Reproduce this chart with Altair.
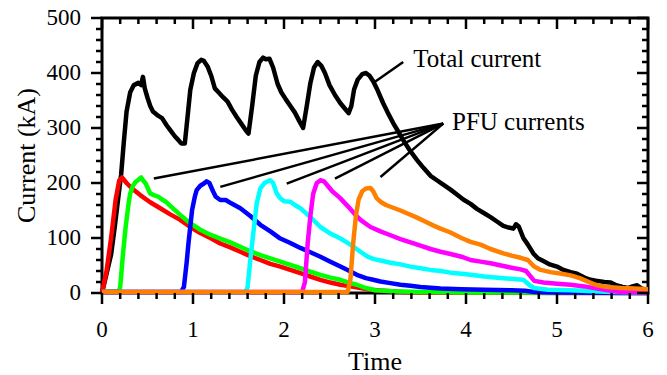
import altair as alt
import pandas as pd

FONT = "Liberation Serif"

# ---------------- data ----------------
black_t = [0.0, 0.05, 0.10, 0.14, 0.18, 0.21, 0.24, 0.27, 0.31, 0.35, 0.40, 0.43, 0.45, 0.47, 0.50, 0.53, 0.56,
           0.62, 0.66, 0.71, 0.75, 0.80, 0.84, 0.87, 0.91, 0.94, 0.97, 1.01, 1.05, 1.09, 1.12, 1.16, 1.20, 1.24,
           1.28, 1.33, 1.38, 1.43, 1.48, 1.53, 1.58, 1.61, 1.65, 1.69, 1.73, 1.77, 1.80, 1.84, 1.88, 1.93, 1.97,
           2.02, 2.07, 2.12, 2.17, 2.21, 2.25, 2.29, 2.33, 2.37, 2.41, 2.45, 2.50, 2.56, 2.62, 2.67, 2.71, 2.74,
           2.77, 2.81, 2.86, 2.90, 2.94, 2.98, 3.03, 3.09, 3.14, 3.20, 3.25, 3.31, 3.38, 3.46, 3.53, 3.61, 3.68,
           3.75, 3.83, 3.90, 3.97, 4.05, 4.12, 4.20, 4.27, 4.34, 4.41, 4.47, 4.52, 4.55, 4.58, 4.63, 4.68, 4.74,
           4.79, 4.85, 4.92, 5.00, 5.07, 5.15, 5.22, 5.30, 5.37, 5.44, 5.52, 5.59, 5.65, 5.72, 5.78, 5.83, 5.88,
           5.93, 6.0]
black_v = [0, 35, 70, 120, 175, 215, 275, 330, 365, 378, 382, 378, 393, 372, 355, 340, 330,
           322, 318, 305, 296, 285, 278, 272, 272, 320, 369, 400, 418, 424, 422, 412, 395, 372,
           365, 356, 348, 333, 320, 308, 296, 290, 340, 395, 420, 428, 425, 426, 410, 380, 365,
           352, 340, 328, 312, 300, 340, 382, 410, 420, 413, 400, 378, 360, 345, 335, 327, 340,
           370, 388, 398, 400, 395, 385, 368, 345, 328, 309, 295, 278, 260, 242, 228, 213, 205,
           197, 188, 179, 170, 162, 153, 145, 138, 130, 122, 119, 117, 125, 121, 100, 88, 72,
           63, 58, 52, 48, 42, 38, 35, 28, 24, 22, 20, 19, 14, 11, 9, 12, 14,
           8, 6]

red_t = [0.0, 0.05, 0.10, 0.15, 0.19, 0.22, 0.27, 0.33, 0.42, 0.53, 0.64, 0.75, 0.86, 0.97, 1.08, 1.19, 1.30,
         1.41, 1.52, 1.63, 1.74, 1.85, 1.96, 2.07, 2.18, 2.29, 2.40, 2.51, 2.62, 2.73, 2.84, 2.95, 3.10, 3.30,
         3.60, 4.00, 5.00, 6.00]
red_v = [0, 40, 100, 170, 205, 210, 200, 190, 178, 165, 154, 143, 133, 120, 109, 100, 90,
         83, 75, 67, 60, 53, 48, 42, 36, 30, 24, 19, 15, 12, 9, 6, 4, 2,
         1, 1, 0, 0]

green_t = [0.0, 0.10, 0.185, 0.20, 0.23, 0.26, 0.29, 0.31, 0.34, 0.37, 0.40, 0.43, 0.45, 0.48, 0.53, 0.57, 0.62,
           0.66, 0.70, 0.78, 0.86, 0.97, 1.08, 1.19, 1.30, 1.41, 1.52, 1.63, 1.74, 1.85, 1.96, 2.07, 2.18, 2.29,
           2.40, 2.51, 2.62, 2.71, 2.80, 2.90, 3.00, 3.20, 3.50, 4.00, 6.00]
green_v = [2, 3, 3, 11, 70, 120, 160, 181, 195, 202, 206, 210, 205, 199, 181, 178, 175,
           170, 166, 154, 142, 127, 115, 106, 99, 92, 84, 76, 69, 63, 57, 51, 45, 39,
           33, 28, 24, 19, 15, 9, 5, 3, 2, 1, 0]

blue_t = [0.0, 0.50, 0.87, 0.90, 0.93, 0.95, 0.99, 1.02, 1.04, 1.08, 1.12, 1.15, 1.18, 1.22, 1.25, 1.30, 1.36,
          1.42, 1.52, 1.63, 1.74, 1.85, 1.96, 2.07, 2.18, 2.29, 2.40, 2.51, 2.62, 2.71, 2.80, 2.90, 2.98, 3.06,
          3.17, 3.28, 3.39, 3.50, 3.72, 3.95, 4.20, 4.50, 4.65, 4.75, 5.00, 6.00]
blue_v = [2, 2, 2, 11, 55, 90, 151, 175, 187, 195, 199, 203, 200, 185, 175, 169, 169,
          163, 154, 140, 124, 112, 99, 91, 82, 74, 66, 57, 48, 41, 33, 27, 24, 21,
          18, 15, 13, 11, 8, 7, 6, 5, 4, 2, 1, 0]

cyan_t = [0.0, 1.00, 1.58, 1.60, 1.63, 1.65, 1.70, 1.74, 1.78, 1.82, 1.85, 1.88, 1.92, 1.96, 2.00, 2.07, 2.12,
          2.18, 2.29, 2.40, 2.51, 2.62, 2.73, 2.84, 2.92, 2.98, 3.06, 3.17, 3.28, 3.39, 3.50, 3.61, 3.72, 3.83,
          3.95, 4.05, 4.20, 4.41, 4.55, 4.63, 4.70, 4.75, 4.90, 5.15, 5.40, 5.60, 6.00]
cyan_v = [2, 2, 2, 11, 60, 90, 163, 190, 199, 203, 205, 200, 181, 172, 167, 166, 160,
          154, 138, 120, 108, 99, 88, 75, 66, 62, 59, 55, 52, 48, 45, 42, 40, 37,
          35, 33, 30, 27, 25, 24, 14, 9, 6, 5, 3, 2, 1]

magenta_t = [0.0, 2.00, 2.20, 2.23, 2.26, 2.29, 2.32, 2.36, 2.40, 2.44, 2.48, 2.53, 2.58, 2.62, 2.70, 2.78, 2.84,
             2.95, 3.06, 3.17, 3.28, 3.39, 3.50, 3.61, 3.72, 3.83, 3.95, 4.05, 4.16, 4.27, 4.41, 4.50, 4.60, 4.66,
             4.70, 4.75, 4.85, 5.00, 5.15, 5.30, 5.44, 5.59, 5.70, 6.00]
magenta_v = [2, 2, 2, 20, 90, 140, 180, 200, 205, 203, 195, 185, 178, 172, 158, 143, 133,
             120, 112, 105, 98, 92, 86, 80, 75, 71, 66, 60, 57, 54, 49, 46, 43, 40,
             32, 22, 19, 17, 15, 12, 8, 4, 2, 1]

orange_t = [0.0, 2.50, 2.70, 2.73, 2.76, 2.79, 2.82, 2.86, 2.90, 2.95, 2.98, 3.02, 3.06, 3.12, 3.20, 3.28, 3.35,
            3.45, 3.55, 3.65, 3.72, 3.83, 3.95, 4.05, 4.16, 4.27, 4.41, 4.50, 4.60, 4.68, 4.75, 4.82, 4.93, 5.05,
            5.15, 5.25, 5.35, 5.44, 5.55, 5.70, 5.85, 6.00]
orange_v = [2, 2, 2, 25, 90, 140, 170, 185, 190, 191, 185, 172, 166, 160, 155, 150, 145,
            138, 130, 122, 117, 110, 100, 93, 88, 80, 72, 68, 64, 60, 48, 42, 38, 35,
            32, 27, 20, 14, 11, 9, 8, 7]

series = [
    ("black", black_t, black_v),
    ("#FF0000", red_t, red_v),
    ("#00FF00", green_t, green_v),
    ("#0000FF", blue_t, blue_v),
    ("#00FFFF", cyan_t, cyan_v),
    ("#FF00FF", magenta_t, magenta_v),
    ("#FF8000", orange_t, orange_v),
]

# annotation pointers
pfu_hub = (3.75, 308)
pfu_end_t = [0.57, 1.30, 2.03, 2.56, 3.06]
pfu_end_v = [208, 193, 199, 208, 211]
total_line_t = [3.00, 3.31]
total_line_v = [384, 420]
label_text = ["Total current", "PFU currents"]
label_t = [3.42, 3.846]
label_v = [411, 296]

x_major = [0, 1, 2, 3, 4, 5, 6]
x_minor = [0.2, 0.4, 0.6, 0.8, 1.2, 1.4, 1.6, 1.8, 2.2, 2.4, 2.6, 2.8, 3.2, 3.4, 3.6, 3.8,
           4.2, 4.4, 4.6, 4.8, 5.2, 5.4, 5.6, 5.8]
y_major = [0, 100, 200, 300, 400, 500]
y_minor = [20, 40, 60, 80, 120, 140, 160, 180, 220, 240, 260, 280, 320, 340, 360, 380,
           420, 440, 460, 480]
x_title = "Time"
y_title = "Current (kA)"

# ---------------- chart ----------------
W, H = 546, 275
X0, X1, Y0, Y1 = 0, 6, 0, 500
MAJ, MIN = 11, 6                       # tick lengths in pixels
ux = (X1 - X0) / W                     # data units per pixel
uy = (Y1 - Y0) / H
xs = alt.Scale(domain=[X0, X1], nice=False, zero=False)
ys = alt.Scale(domain=[Y0, Y1], nice=False, zero=False)


def X(field):
    return alt.X(field, scale=xs, axis=None)


def Y(field):
    return alt.Y(field, scale=ys, axis=None)


# all straight black segments in one table: pointer lines + tick marks
seg_t1, seg_v1, seg_t2, seg_v2, seg_w = [], [], [], [], []


def seg(t1, v1, t2, v2, w):
    seg_t1.append(t1); seg_v1.append(v1); seg_t2.append(t2); seg_v2.append(v2); seg_w.append(w)


for te, ve in zip(pfu_end_t, pfu_end_v):
    seg(pfu_hub[0], pfu_hub[1], te, ve, "pointer")
seg(total_line_t[0], total_line_v[0], total_line_t[1], total_line_v[1], "pointer")

for vals, ln in ((x_major, MAJ), (x_minor, MIN)):
    for v in vals:
        seg(v, Y0, v, Y0 - ln * uy, "tick")      # bottom, outward
        seg(v, Y1, v, Y1 - ln * uy, "tick")      # top, inward
for vals, ln in ((y_major, MAJ), (y_minor, MIN)):
    for v in vals:
        seg(X0, v, X0 - ln * ux, v, "tick")      # left, outward
        seg(X1, v, X1 - ln * ux, v, "tick")      # right, inward

seg_df = pd.DataFrame({"t1": seg_t1, "v1": seg_v1, "t2": seg_t2, "v2": seg_v2, "kind": seg_w})
segments = alt.Chart(seg_df).mark_rule(color="black", strokeWidth=2.5).encode(
    x=X("t1:Q"), y=Y("v1:Q"), x2="t2:Q", y2="v2:Q")

# tick labels and axis titles
xmaj_df = pd.DataFrame({"val": x_major})
ymaj_df = pd.DataFrame({"val": y_major})
x_labels = alt.Chart(xmaj_df).mark_text(
    font=FONT, fontSize=23, color="black", align="center", baseline="alphabetic").encode(
    x=X("val:Q"), y=alt.value(H + 44), text=alt.Text("val:Q", format="d"))
y_labels = alt.Chart(ymaj_df).mark_text(
    font=FONT, fontSize=23, color="black", align="right", baseline="middle").encode(
    y=Y("val:Q"), x=alt.value(-21), text=alt.Text("val:Q", format="d"))
x_title_layer = alt.Chart(pd.DataFrame({"label": [x_title]})).mark_text(
    font=FONT, fontSize=26, color="black", align="center", baseline="alphabetic").encode(
    x=alt.value(W / 2), y=alt.value(H + 77), text="label:N")
y_title_layer = alt.Chart(pd.DataFrame({"label": [y_title]})).mark_text(
    font=FONT, fontSize=26, color="black", align="center", baseline="alphabetic", angle=270).encode(
    x=alt.value(-67), y=alt.value(H / 2), text="label:N")

line_layers = []
for color, ts, vs in series:
    d = pd.DataFrame({"t": ts, "v": vs})
    line_layers.append(
        alt.Chart(d).mark_line(color=color, strokeWidth=4.5, strokeJoin="round").encode(
            x=X("t:Q"), y=Y("v:Q"))
    )

lab_df = pd.DataFrame({"t": label_t, "v": label_v, "label": label_text})
ann_text = alt.Chart(lab_df).mark_text(align="left", baseline="alphabetic", font=FONT, fontSize=25,
                                       color="black").encode(
    x=X("t:Q"), y=Y("v:Q"), text="label:N")

chart = alt.layer(
    *line_layers, segments, x_labels, y_labels, x_title_layer, y_title_layer, ann_text,
).properties(
    width=W, height=H,
    padding={"left": 102, "top": 18, "right": 19, "bottom": 82},
    autosize=alt.AutoSizeParams(type="none"),
    background="white",
).configure_view(stroke="black", strokeWidth=3)

chart.save("out.html", embed_options={"renderer": "svg", "actions": False})
